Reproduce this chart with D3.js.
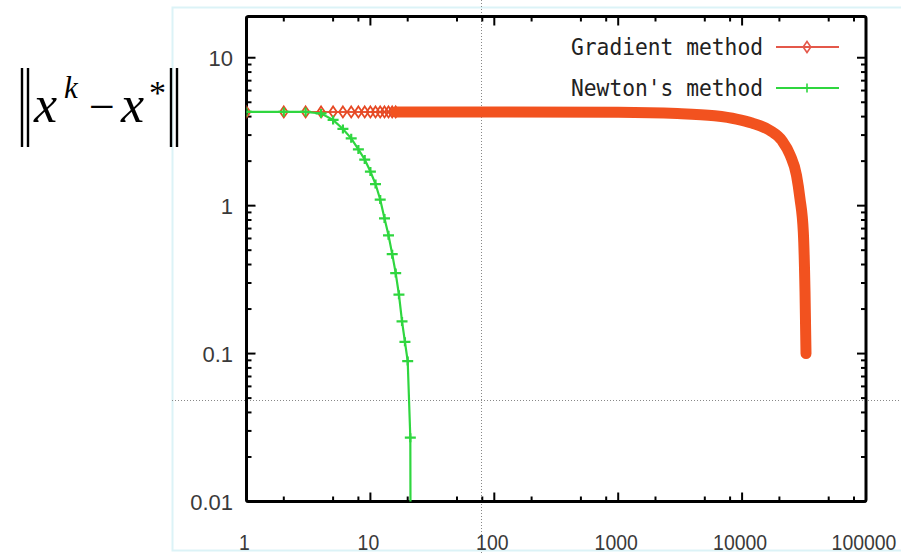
<!DOCTYPE html>
<html>
<head>
<meta charset="utf-8">
<script src="https://cdn.jsdelivr.net/npm/d3@7"></script>
<style>
  html, body { margin: 0; padding: 0; background: #fff; }
  svg { display: block; }
</style>
</head>
<body>
<svg id="chart"></svg>
<script>
// Convergence of gradient vs Newton's method (log-log)

// Axis ticks
const xTickValues = [1, 10, 100, 1000, 10000, 100000];
const xTickLabels = ['1', '10', '100', '1000', '10000', '100000'];
const xMinorSteps = [2, 5, 8];
const yTickValues = [0.01, 0.1, 1, 10];
const yTickLabels = ['0.01', '0.1', '1', '10'];
const yMinorSteps = [2, 3, 4, 5, 6, 7, 8, 9];

// Gradient method: iteration k and error ||x^k - x*||
const gradientIters = [1, 2, 3, 4, 5, 6, 7, 8, 9, 10, 11, 12, 13, 14, 15, 16,
  100, 1000, 3000, 6000, 9000, 12000, 16800, 21000, 24400, 27500, 29300, 31200, 32200, 32800];
const gradientError = [4.3, 4.3, 4.3, 4.3, 4.3, 4.3, 4.3, 4.3, 4.3, 4.3, 4.3, 4.3, 4.3, 4.3, 4.3, 4.3,
  4.3, 4.28, 4.2, 4.05, 3.85, 3.62, 3.22, 2.75, 2.2, 1.6, 1.12, 0.66, 0.26, 0.1];
// iterations up to this one still show single diamond markers
const gradientMarkerLimit = 16;

// Newton's method
const newtonIters = [1, 2, 3, 4, 5, 6, 7, 8, 9, 10, 11, 12, 13, 14, 15, 16, 17, 18, 19, 20, 21, 21.2];
const newtonError = [4.3, 4.3, 4.3, 4.2, 3.8, 3.3, 2.85, 2.4, 2.05, 1.7, 1.4, 1.1, 0.82, 0.63,
  0.47, 0.35, 0.25, 0.165, 0.12, 0.089, 0.027, 0.001];
const newtonMarkerLimit = 21;

const seriesNames = ['Gradient method', "Newton's method"];

const width = 901;
const height = 554;

const plot = { left: 246.5, right: 866, top: 16.5, bottom: 501.5 };

const svg = d3.select('#chart')
  .attr('width', width)
  .attr('height', height);

svg.append('rect')
  .attr('width', width)
  .attr('height', height)
  .attr('fill', '#fff');

// faint frame of the pasted picture
svg.append('rect')
  .attr('x', 172.5).attr('y', 7.5)
  .attr('width', 740).attr('height', 543)
  .attr('fill', 'none')
  .attr('stroke', '#dcf3f7')
  .attr('stroke-width', 2);

// dotted guide lines of the slide
svg.append('line')
  .attr('x1', 481.5).attr('x2', 481.5).attr('y1', 0).attr('y2', height)
  .attr('stroke', '#888').attr('stroke-width', 1).attr('stroke-dasharray', '1,2');
svg.append('line')
  .attr('x1', 172).attr('x2', width).attr('y1', 400.5).attr('y2', 400.5)
  .attr('stroke', '#888').attr('stroke-width', 1).attr('stroke-dasharray', '1,2');

const x = d3.scaleLog().domain([1, 100000]).range([plot.left, plot.right]);
const y = d3.scaleLog().domain([0.01, 19]).range([plot.bottom, plot.top]);

// Minor tick positions
const xMinor = [];
xTickValues.slice(0, -1).forEach(v => xMinorSteps.forEach(s => xMinor.push(v * s)));
const yMinor = [];
yTickValues.forEach(v => yMinorSteps.forEach(s => { if (v * s < 19) yMinor.push(v * s); }));

const ticks = svg.append('g')
  .attr('stroke', '#000')
  .attr('stroke-width', 2);

// bottom/top and left/right ticks
function xTick(v, len) {
  ticks.append('line').attr('x1', x(v)).attr('x2', x(v))
    .attr('y1', plot.bottom).attr('y2', plot.bottom - len);
  ticks.append('line').attr('x1', x(v)).attr('x2', x(v))
    .attr('y1', plot.top).attr('y2', plot.top + len);
}
function yTick(v, len) {
  ticks.append('line').attr('y1', y(v)).attr('y2', y(v))
    .attr('x1', plot.left).attr('x2', plot.left + len);
  ticks.append('line').attr('y1', y(v)).attr('y2', y(v))
    .attr('x1', plot.right).attr('x2', plot.right - len);
}
xTickValues.forEach(v => xTick(v, 9));
xMinor.forEach(v => xTick(v, 5));
yTickValues.forEach(v => yTick(v, 9));
yMinor.forEach(v => yTick(v, 5));

// frame
svg.append('rect')
  .attr('x', plot.left).attr('y', plot.top)
  .attr('width', plot.right - plot.left)
  .attr('height', plot.bottom - plot.top)
  .attr('rx', 2)
  .attr('fill', 'none')
  .attr('stroke', '#000')
  .attr('stroke-width', 3);

// tick labels (narrow, tall digits)
svg.append('g')
  .selectAll('text')
  .data(xTickValues)
  .enter().append('text')
  .attr('x', d => x(d) - 2)
  .attr('y', 550)
  .attr('text-anchor', 'middle')
  .attr('font-family', 'Liberation Sans, Arial, sans-serif')
  .attr('font-size', 22)
  .attr('textLength', (d, i) => xTickLabels[i].length * 10.8)
  .attr('lengthAdjust', 'spacingAndGlyphs')
  .attr('fill', '#3a3a3a')
  .text((d, i) => xTickLabels[i]);

svg.append('g')
  .selectAll('text')
  .data(yTickValues)
  .enter().append('text')
  .attr('x', 233)
  .attr('y', d => y(d) + 8)
  .attr('text-anchor', 'end')
  .attr('font-family', 'Liberation Sans, Arial, sans-serif')
  .attr('font-size', 22)
  .attr('fill', '#3a3a3a')
  .text((d, i) => yTickLabels[i]);

// data
svg.append('clipPath').attr('id', 'clip')
  .append('rect')
  .attr('x', plot.left).attr('y', plot.top)
  .attr('width', plot.right - plot.left)
  .attr('height', plot.bottom - plot.top);

const data = svg.append('g').attr('clip-path', 'url(#clip)');

const line = d3.line().x(d => x(d[0])).y(d => y(d[1]));
const smoothLine = d3.line().x(d => x(d[0])).y(d => y(d[1])).curve(d3.curveMonotoneX);

const gradPts = gradientIters.map((k, i) => [k, gradientError[i]]);
const newtonPts = newtonIters.map((k, i) => [k, newtonError[i]]);

const redColor = '#f2521f';
const greenColor = '#2fd63f';

// thin line through the early iterations
data.append('path')
  .attr('d', line(gradPts.filter(d => d[0] <= gradientMarkerLimit)))
  .attr('fill', 'none')
  .attr('stroke', '#e85a3c')
  .attr('stroke-width', 2);

// diamond markers
const diamond = 'M0,-5.5L3.8,0L0,5.5L-3.8,0Z';
data.append('g')
  .selectAll('path')
  .data(gradPts.filter(d => d[0] <= gradientMarkerLimit))
  .enter().append('path')
  .attr('transform', d => `translate(${x(d[0])},${y(d[1])})`)
  .attr('d', diamond)
  .attr('fill', 'none')
  .attr('stroke', '#e64a25')
  .attr('stroke-width', 1.8);

// dense markers blend into a thick band
data.append('path')
  .attr('d', smoothLine(gradPts.filter(d => d[0] >= gradientMarkerLimit)))
  .attr('fill', 'none')
  .attr('stroke', redColor)
  .attr('stroke-width', 11)
  .attr('stroke-linecap', 'round')
  .attr('stroke-linejoin', 'round');

// Newton's method
data.append('path')
  .attr('d', line(newtonPts))
  .attr('fill', 'none')
  .attr('stroke', greenColor)
  .attr('stroke-width', 2.2);

const plus = 'M-5.5,0H5.5M0,-4.5V4.5';
data.append('g')
  .selectAll('path')
  .data(newtonPts.filter(d => d[0] <= newtonMarkerLimit))
  .enter().append('path')
  .attr('transform', d => `translate(${x(d[0])},${y(d[1])})`)
  .attr('d', plus)
  .attr('fill', 'none')
  .attr('stroke', greenColor)
  .attr('stroke-width', 2.2);

// legend
const legend = svg.append('g');
const legendRows = [
  { name: seriesNames[0], y: 47, color: '#e4584a', marker: diamond },
  { name: seriesNames[1], y: 88, color: '#2fd63f', marker: plus }
];
legendRows.forEach(r => {
  legend.append('text')
    .attr('x', 763)
    .attr('y', r.y + 8)
    .attr('text-anchor', 'end')
    .attr('font-family', 'DejaVu Sans Mono, Liberation Mono, monospace')
    .attr('font-size', 23)
    .attr('textLength', 192)
    .attr('lengthAdjust', 'spacingAndGlyphs')
    .attr('fill', '#222')
    .text(r.name);
  legend.append('line')
    .attr('x1', 776).attr('x2', 839)
    .attr('y1', r.y).attr('y2', r.y)
    .attr('stroke', r.color)
    .attr('stroke-width', 2);
  legend.append('path')
    .attr('transform', `translate(807,${r.y})`)
    .attr('d', r.marker)
    .attr('fill', 'none')
    .attr('stroke', r.color)
    .attr('stroke-width', 1.6);
});

// y label: ||x^k - x*||
const label = svg.append('g')
  .attr('font-family', 'Liberation Serif, Times New Roman, serif')
  .attr('fill', '#000');

[[22, 28], [171, 177]].forEach(pair => pair.forEach(bx => {
  label.append('line')
    .attr('x1', bx).attr('x2', bx)
    .attr('y1', 68).attr('y2', 147)
    .attr('stroke', '#000')
    .attr('stroke-width', 2.4);
}));

label.append('text').attr('x', 34).attr('y', 122)
  .attr('font-size', 52).attr('font-style', 'italic').text('x');
label.append('text').attr('x', 64).attr('y', 98)
  .attr('font-size', 31).attr('font-style', 'italic').text('k');
label.append('text').attr('x', 89).attr('y', 122)
  .attr('font-size', 46).text('\u2212');
label.append('text').attr('x', 121).attr('y', 122)
  .attr('font-size', 52).attr('font-style', 'italic').text('x');
label.append('text').attr('x', 149).attr('y', 104)
  .attr('font-size', 34).text('*');
</script>
</body>
</html>
